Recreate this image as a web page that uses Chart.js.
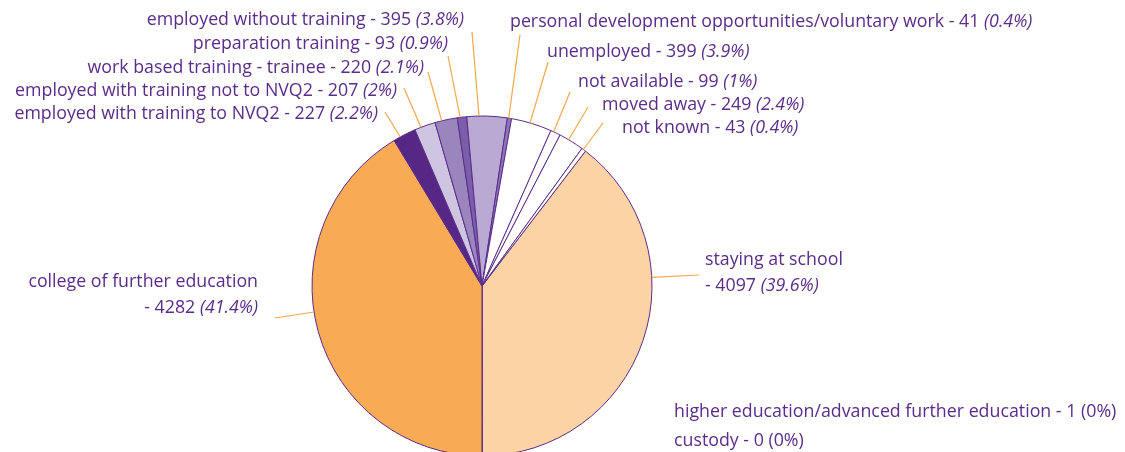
<!DOCTYPE html>
<html>
<head>
<meta charset="utf-8">
<script src="https://cdn.jsdelivr.net/npm/chart.js@4"></script>
<style>
  html, body { margin: 0; padding: 0; background: #fff; overflow: hidden; }
  #wrap { width: 1125px; height: 452px; position: relative; }
</style>
</head>
<body>
<div id="wrap"><canvas id="pie" width="1125" height="452"></canvas></div>
<script>
const categories = [
  'staying at school',
  'higher education/advanced further education',
  'custody',
  'college of further education',
  'employed with training to NVQ2',
  'employed with training not to NVQ2',
  'work based training - trainee',
  'preparation training',
  'employed without training',
  'personal development opportunities/voluntary work',
  'unemployed',
  'not available',
  'moved away',
  'not known'
];
const counts = [4097, 1, 0, 4282, 227, 207, 220, 93, 395, 41, 399, 99, 249, 43];
const sliceColors = [
  '#FBD3A5', '#FBD3A5', '#FBD3A5', '#F9AA55', '#562784', '#CEC5E0', '#9A85BC',
  '#7A5EA9', '#B9A9D3', '#8C76B7', '#FFFFFF', '#FFFFFF', '#FFFFFF', '#FFFFFF'
];

const purple = '#5B2C8A';
const lineOrange = '#F6A748';
const FONT = '"Open Sans", "DejaVu Sans", sans-serif';
const FONT_SIZE = '17.8px ';
const TEXT_SHIFT = 1.5;
const total = counts.reduce((a, b) => a + b, 0);

function pct(v) {
  let s = (v / total * 100).toFixed(1);
  if (s.endsWith('.0')) s = s.slice(0, -2);
  return '(' + s + '%)';
}

// label layout: x, y (text middle), align, optional second-line, and leader line start
const labelLayout = [
  { x: 705, y: 258, align: 'left', split: true, lx: 699, ly: 275 },
  { x: 674, y: 410, align: 'left', plain: true },
  { x: 674, y: 439, align: 'left', plain: true },
  { x: 258, y: 280, align: 'right', split: true, lx: 275, ly: 318 },
  { x: 378, y: 112, align: 'right', lx: 385, ly: 112 },
  { x: 397, y: 89, align: 'right', lx: 404, ly: 88 },
  { x: 424, y: 66, align: 'right', lx: 428, ly: 72 },
  { x: 448, y: 42, align: 'right', lx: 448, ly: 56 },
  { x: 464, y: 18, align: 'right', lx: 472, ly: 32 },
  { x: 510, y: 20, align: 'left', lx: 520, ly: 35 },
  { x: 547, y: 50, align: 'left', lx: 548, ly: 62 },
  { x: 578, y: 80, align: 'left', lx: 570, ly: 92 },
  { x: 602, y: 103, align: 'left', lx: 588, ly: 107 },
  { x: 622, y: 126, align: 'left', lx: 603, ly: 123 }
];

function drawParts(ctx, parts, x, y, align) {
  // parts: [{text, italic}]
  const widths = parts.map(p => {
    ctx.font = (p.italic ? 'italic ' : '') + FONT_SIZE + FONT;
    return ctx.measureText(p.text).width;
  });
  const full = widths.reduce((a, b) => a + b, 0);
  let cx = align === 'right' ? x - full : x;
  parts.forEach((p, i) => {
    ctx.font = (p.italic ? 'italic ' : '') + FONT_SIZE + FONT;
    ctx.fillText(p.text, cx, y + TEXT_SHIFT);
    cx += widths[i];
  });
}

const labelPlugin = {
  id: 'pieLabels',
  afterDatasetsDraw(chart) {
    const ctx = chart.ctx;
    const meta = chart.getDatasetMeta(0);
    ctx.save();
    ctx.textBaseline = 'middle';
    ctx.textAlign = 'left';
    ctx.fillStyle = purple;
    categories.forEach((name, i) => {
      const lay = labelLayout[i];
      const v = counts[i];
      if (lay.plain) {
        drawParts(ctx, [{ text: name + ' - ' + v + ' ' + pct(v), italic: false }], lay.x, lay.y, lay.align);
      } else if (lay.split) {
        drawParts(ctx, [{ text: name, italic: false }], lay.x, lay.y, lay.align);
        drawParts(ctx, [{ text: '- ' + v + ' ', italic: false }, { text: pct(v), italic: true }],
          lay.x, lay.y + 26, lay.align);
      } else {
        drawParts(ctx, [{ text: name + ' - ' + v + ' ', italic: false }, { text: pct(v), italic: true }],
          lay.x, lay.y, lay.align);
      }
      if (lay.lx === undefined) return;
      const arc = meta.data[i];
      const p = arc.getProps(['x', 'y', 'startAngle', 'endAngle', 'outerRadius'], true);
      const span = p.endAngle - p.startAngle;
      let ang = Math.atan2(lay.ly - p.y, lay.lx - p.x);
      // bring angle into the arc's range
      while (ang < p.startAngle) ang += Math.PI * 2;
      while (ang > p.startAngle + Math.PI * 2) ang -= Math.PI * 2;
      const lo = p.startAngle + span * 0.3, hi = p.endAngle - span * 0.3;
      if (ang < lo || ang > hi) {
        const dLo = Math.min(Math.abs(ang - lo), Math.abs(ang - Math.PI * 2 - lo));
        const dHi = Math.min(Math.abs(ang - hi), Math.abs(ang - Math.PI * 2 - hi));
        ang = dLo < dHi ? lo : hi;
      }
      const ex = p.x + Math.cos(ang) * p.outerRadius;
      const ey = p.y + Math.sin(ang) * p.outerRadius;
      ctx.strokeStyle = lineOrange;
      ctx.lineWidth = 1.2;
      ctx.beginPath();
      ctx.moveTo(lay.lx, lay.ly);
      ctx.lineTo(ex, ey);
      ctx.stroke();
    });
    ctx.restore();
  }
};

new Chart(document.getElementById('pie').getContext('2d'), {
  type: 'pie',
  data: {
    labels: categories,
    datasets: [{
      data: counts,
      backgroundColor: sliceColors,
      borderColor: purple,
      borderWidth: 1,
      radius: 170
    }]
  },
  options: {
    responsive: false,
    animation: false,
    rotation: 37.5,
    layout: { padding: { left: 200, right: 361, top: 130, bottom: 10 } },
    plugins: { legend: { display: false }, tooltip: { enabled: false } }
  },
  plugins: [labelPlugin]
});
</script>
</body>
</html>
